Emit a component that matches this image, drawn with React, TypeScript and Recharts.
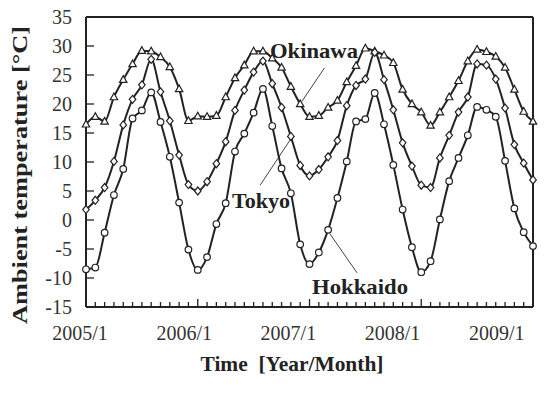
import { LineChart, Line, XAxis, YAxis, ReferenceLine } from "recharts";

// monthly mean ambient temperature, 2005/1 .. 2009/1
const yearLabels = ["2005/1", "2006/1", "2007/1", "2008/1", "2009/1"];
const tempTicks = [-15, -10, -5, 0, 5, 10, 15, 20, 25, 30, 35];

const okinawa = [
  16.5, 17.8, 17.0, 21.2, 24.2, 26.9, 29.2, 29.1, 28.1, 26.4, 22.6, 17.1,
  17.9, 17.8, 18.0, 21.2, 24.5, 26.7, 29.1, 29.1, 27.9, 26.3, 23.0, 20.0,
  17.8, 18.0, 19.4, 20.6, 23.8, 26.6, 29.6, 29.1, 28.4, 27.1, 22.5, 20.0,
  18.6, 16.3, 18.6, 21.2, 24.0, 27.4, 29.4, 29.0, 28.2, 26.3, 22.5, 18.7, 17.0,
];
const tokyo = [
  1.8, 3.4, 5.6, 10.1, 16.4, 20.8, 23.3, 27.7, 22.1, 17.1, 11.2, 6.1,
  5.0, 6.6, 9.7, 13.5, 18.9, 22.4, 25.5, 27.4, 23.5, 19.4, 14.4, 9.4,
  7.6, 8.7, 10.9, 13.7, 19.7, 23.2, 24.3, 28.9, 24.2, 19.0, 13.3, 9.3,
  6.0, 5.6, 10.7, 14.6, 18.6, 21.2, 26.9, 26.7, 24.3, 19.3, 13.0, 9.8, 6.9,
];
const hokkaido = [
  -8.5, -8.2, -2.2, 4.3, 8.8, 17.5, 18.9, 22.0, 16.9, 10.9, 3.0, -5.1,
  -8.6, -6.4, -0.7, 2.9, 11.8, 14.9, 18.5, 22.6, 16.2, 8.9, 4.6, -4.2,
  -7.6, -5.6, -1.7, 3.8, 10.1, 17.0, 17.4, 21.9, 16.5, 9.5, 1.8, -4.7,
  -9.0, -7.1, 0.1, 6.7, 10.7, 14.6, 19.5, 19.0, 17.8, 10.2, 2.0, -2.1, -4.5,
];

// leader lines from the series names to their curves (month index, temp)
const okinawaLeader = [{ x: 23.2, y: 20.5 }, { x: 25.6, y: 26.2 }];
const tokyoLeader = [{ x: 18.7, y: 6.0 }, { x: 22.0, y: 14.0 }];
const hokkaidoLeader = [{ x: 26.2, y: -2.4 }, { x: 29.1, y: -9.1 }];

const data = okinawa.map((v, i) => ({
  month: i,
  okinawa: v,
  tokyo: tokyo[i],
  hokkaido: hokkaido[i],
}));
const monthTicks = data.map((d) => d.month);

const INK = "#222";
const SERIF = "Liberation Serif, serif";

function MonthTick({ x, y, payload }: any) {
  const major = payload.value % 12 === 0;
  const shift = -6 - payload.value * 0.63;
  return (
    <g>
      <line x1={x} x2={x} y1={y} y2={y - (major ? 8 : 5)} stroke={INK} strokeWidth={1.3} />
      {major && (
        <text
          x={x + shift}
          y={y + 33}
          textAnchor="middle"
          style={{ fontFamily: SERIF, fontSize: 20 }}
          fill="#333"
        >
          {yearLabels[payload.value / 12]}
        </text>
      )}
    </g>
  );
}

function TempTick({ x, y, payload }: any) {
  return (
    <g>
      <line x1={x} x2={x + 8} y1={y} y2={y} stroke={INK} strokeWidth={1.3} />
      <text
        x={x - 14}
        y={y + 7}
        textAnchor="end"
        style={{ fontFamily: SERIF, fontSize: 20 }}
        fill="#333"
      >
        {payload.value}
      </text>
    </g>
  );
}

function RightTick({ x, y }: any) {
  return <line x1={x} x2={x - 8} y1={y} y2={y} stroke={INK} strokeWidth={1.3} />;
}

const Triangle = ({ cx, cy }: any) => (
  <polygon
    points={`${cx},${cy - 4} ${cx - 3.7},${cy + 2.7} ${cx + 3.7},${cy + 2.7}`}
    fill="#fff"
    stroke={INK}
    strokeWidth={1.2}
  />
);
const Diamond = ({ cx, cy }: any) => (
  <polygon
    points={`${cx},${cy - 4} ${cx + 3.3},${cy} ${cx},${cy + 4} ${cx - 3.3},${cy}`}
    fill="#fff"
    stroke={INK}
    strokeWidth={1.2}
  />
);
const Circle = ({ cx, cy }: any) => (
  <circle cx={cx} cy={cy} r={3.3} fill="#fff" stroke={INK} strokeWidth={1.2} />
);

export default function App() {
  return (
    <div style={{ position: "absolute", left: 0, top: 0, width: 557, height: 393, background: "#fff" }}>
      <LineChart width={557} height={393} data={data} margin={{ top: 17, right: 23, bottom: 26, left: 26 }}>
        <XAxis
          dataKey="month"
          type="number"
          domain={[0, 48]}
          ticks={monthTicks}
          interval={0}
          height={60}
          tickSize={0}
          tickMargin={0}
          tickLine={false}
          axisLine={{ stroke: INK, strokeWidth: 2 }}
          tick={MonthTick}
        />
        <YAxis
          yAxisId="left"
          domain={[-15, 35]}
          ticks={tempTicks}
          interval={0}
          width={60}
          tickSize={0}
          tickMargin={0}
          tickLine={false}
          allowDataOverflow
          axisLine={{ stroke: INK, strokeWidth: 2 }}
          tick={TempTick}
        />
        <YAxis
          yAxisId="right"
          orientation="right"
          domain={[-15, 35]}
          ticks={tempTicks}
          interval={0}
          width={1}
          tickSize={0}
          tickMargin={0}
          tickLine={false}
          axisLine={{ stroke: INK, strokeWidth: 2 }}
          tick={RightTick}
        />
        <ReferenceLine yAxisId="left" y={35} stroke={INK} strokeWidth={2} />
        <ReferenceLine yAxisId="left" segment={okinawaLeader} stroke="#444" strokeWidth={1} ifOverflow="visible" />
        <ReferenceLine yAxisId="left" segment={tokyoLeader} stroke="#444" strokeWidth={1} ifOverflow="visible" />
        <ReferenceLine yAxisId="left" segment={hokkaidoLeader} stroke="#444" strokeWidth={1} ifOverflow="visible" />
        <Line
          yAxisId="left"
          type="monotone"
          dataKey="okinawa"
          stroke={INK}
          strokeWidth={2}
          dot={(p: any) => <Triangle key={`o${p.index}`} {...p} />}
          isAnimationActive={false}
        />
        <Line
          yAxisId="left"
          type="monotone"
          dataKey="tokyo"
          stroke={INK}
          strokeWidth={2}
          dot={(p: any) => <Diamond key={`t${p.index}`} {...p} />}
          isAnimationActive={false}
        />
        <Line
          yAxisId="left"
          type="monotone"
          dataKey="hokkaido"
          stroke={INK}
          strokeWidth={2}
          dot={(p: any) => <Circle key={`h${p.index}`} {...p} />}
          isAnimationActive={false}
        />
      </LineChart>
      <svg
        width={557}
        height={393}
        style={{ position: "absolute", left: 0, top: 0, pointerEvents: "none", fontFamily: SERIF, fontWeight: "bold" }}
        fill={INK}
      >
        <text
          transform="translate(27,175) rotate(-90)"
          textAnchor="middle"
          fontSize={21}
          textLength={298}
          lengthAdjust="spacingAndGlyphs"
        >
          Ambient temperature [°C]
        </text>
        <text x={292} y={371} textAnchor="middle" fontSize={21} textLength={183} lengthAdjust="spacingAndGlyphs">
          {"Time\u00a0\u00a0[Year/Month]"}
        </text>
        <text x={270} y={58} fontSize={21} textLength={88} lengthAdjust="spacingAndGlyphs">
          Okinawa
        </text>
        <text x={232} y={208} fontSize={21} textLength={58} lengthAdjust="spacingAndGlyphs">
          Tokyo
        </text>
        <text x={312} y={294} fontSize={21} textLength={96} lengthAdjust="spacingAndGlyphs">
          Hokkaido
        </text>
      </svg>
    </div>
  );
}
